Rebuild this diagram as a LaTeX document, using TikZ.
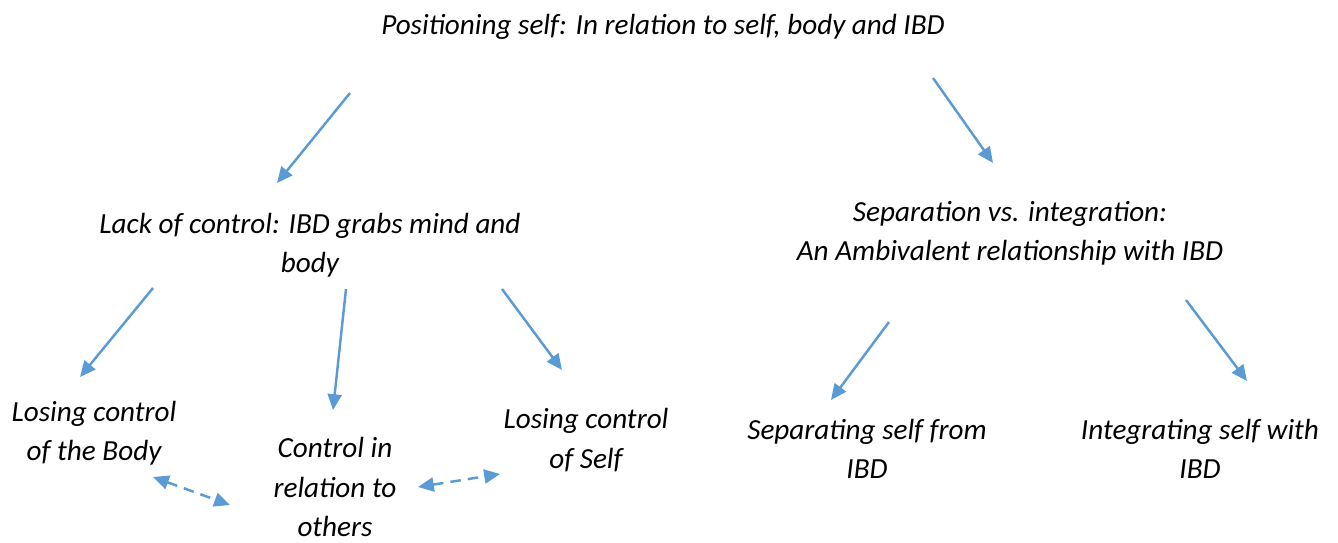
\documentclass[tikz,border=0pt]{standalone}
\usepackage{fontspec}
\setmainfont{Carlito}
\usetikzlibrary{positioning, arrows.meta}

\definecolor{arrowblue}{HTML}{5B9BD5}

\begin{document}
\begin{tikzpicture}[x=0.02cm, y=-0.02cm]
    \tikzstyle{theme} = [align=center, inner sep=0pt, font=\fontsize{16.6}{22.4}\selectfont\itshape];
    \tikzstyle{link} = [draw=arrowblue, line width=1.4pt, -{Triangle[length=9pt, width=8pt]}];
    \tikzstyle{both} = [link, dashed, dash pattern=on 6pt off 4pt, {Triangle[length=9pt, width=8pt]}-{Triangle[length=9pt, width=8pt]}];

    \useasboundingbox (0, 0) rectangle (1338, 542);

    \node[theme] at (663, 27) (top) {Positioning self: In relation to self, body and IBD};

    \node[theme] at (310, 245) (lack) {Lack of control: IBD grabs mind and\\body};
    \node[theme] at (1010, 233) (sep) {Separation vs. integration:\\An Ambivalent relationship with IBD};

    \node[theme] at (94, 433) (body) {Losing control\\of the Body};
    \node[theme] at (335, 487) (others) {Control in\\relation to\\others};
    \node[theme] at (586, 440) (self) {Losing control\\of Self};
    \node[theme] at (867, 449) (apart) {Separating self from\\IBD};
    \node[theme] at (1200, 449) (whole) {Integrating self with\\IBD};

    % free ends of the connectors
    \coordinate (top-l) at (350, 93);   \coordinate (lack-in) at (277, 183);
    \coordinate (top-r) at (933, 78);   \coordinate (sep-in) at (993, 163);
    \coordinate (lack-a) at (153, 288); \coordinate (body-in) at (80, 377);
    \coordinate (lack-b) at (346, 289); \coordinate (others-in) at (333, 410);
    \coordinate (lack-c) at (502, 289); \coordinate (self-in) at (562, 370);
    \coordinate (sep-a) at (889, 322);  \coordinate (apart-in) at (831, 400);
    \coordinate (sep-b) at (1186, 300); \coordinate (whole-in) at (1247, 381);
    \coordinate (body-x) at (153, 477); \coordinate (others-l) at (230, 505);
    \coordinate (others-r) at (418, 487); \coordinate (self-x) at (500, 474);

    \draw[link] (top-l) -- (lack-in);
    \draw[link] (top-r) -- (sep-in);
    \draw[link] (lack-a) -- (body-in);
    \draw[link] (lack-b) -- (others-in);
    \draw[link] (lack-c) -- (self-in);
    \draw[link] (sep-a) -- (apart-in);
    \draw[link] (sep-b) -- (whole-in);

    \draw[both] (body-x) -- (others-l);
    \draw[both] (others-r) -- (self-x);
\end{tikzpicture}
\end{document}
